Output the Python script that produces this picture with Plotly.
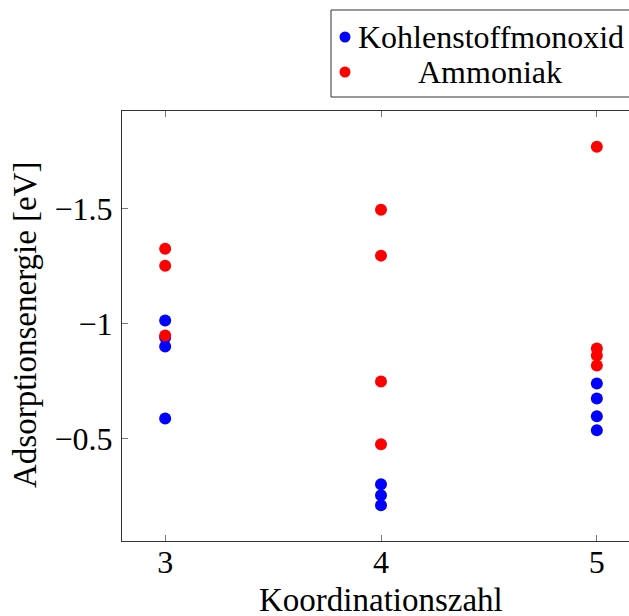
import plotly.graph_objects as go

# Koordinationszahl der Adsorptionsplätze
co_x = [3, 3, 3, 3, 4, 4, 4, 5, 5, 5, 5]
co_y = [-1.013, -0.939, -0.900, -0.587, -0.300, -0.252, -0.209, -0.739, -0.674, -0.596, -0.535]

nh3_x = [3, 3, 3, 4, 4, 4, 4, 5, 5, 5, 5]
nh3_y = [-1.326, -1.252, -0.948, -1.496, -1.296, -0.748, -0.474, -1.770, -0.891, -0.861, -0.817]

x_ticks = [3, 4, 5]
y_ticks = [-1.5, -1.0, -0.5]
y_ticklabels = ["\u22121.5", "\u22121", "\u22120.5"]

series_names = ["Kohlenstoffmonoxid", "Ammoniak"]
series_colors = ["#0000ff", "#ff0000"]
x_title = "Koordinationszahl"
y_title = "Adsorptionsenergie [eV]"

FONT = "'Liberation Serif', 'Times New Roman', serif"
FS = 32
W, H = 700, 616
L, R_PX, T, B_PX = 122, 640, 111, 541  # plot area in pixels
PW, PH = R_PX - L, B_PX - T


def px(x):
    return (x - L) / PW


def py(y):
    return (B_PX - y) / PH


fig = go.Figure()
for xs, ys, name, color in [(co_x, co_y, series_names[0], series_colors[0]),
                            (nh3_x, nh3_y, series_names[1], series_colors[1])]:
    fig.add_trace(go.Scatter(x=xs, y=ys, mode="markers", name=name,
                             marker=dict(color=color, size=12, line=dict(width=0)),
                             showlegend=False))

axis_common = dict(showline=True, linecolor="#333333", linewidth=1, mirror="ticks",
                   ticks="inside", ticklen=6, tickcolor="#777777", tickwidth=1,
                   showgrid=False, zeroline=False, automargin=False,
                   tickfont=dict(family=FONT, size=FS, color="black"))

fig.update_layout(
    template="none",
    font=dict(family=FONT, size=FS, color="black"),
    width=W, height=H,
    margin=dict(l=L, r=W - R_PX, t=T, b=H - B_PX, pad=0),
    paper_bgcolor="white", plot_bgcolor="white",
    xaxis=dict(range=[2.8, 5.2], tickvals=x_ticks, ticktext=[str(v) for v in x_ticks],
               ticklabelstandoff=-7, **axis_common),
    yaxis=dict(range=[-0.053, -1.926], tickvals=y_ticks, ticktext=y_ticklabels,
               ticklabelstandoff=2, **axis_common),
    showlegend=False,
)

# Axis titles
fig.add_annotation(xref="paper", yref="paper", x=px(381), y=py(600), text=x_title,
                   showarrow=False, xanchor="center", yanchor="middle",
                   font=dict(family=FONT, size=33, color="black"))
fig.add_annotation(xref="paper", yref="paper", x=px(25), y=py(325), text=y_title,
                   textangle=-90, showarrow=False, xanchor="center", yanchor="middle",
                   font=dict(family=FONT, size=33, color="black"))

# Legend box drawn above the plot area
fig.add_shape(type="rect", xref="paper", yref="paper",
              x0=px(331), x1=px(640), y0=py(97), y1=py(10),
              line=dict(color="#333333", width=1), fillcolor="white")
legend_rows = [(37, series_names[0], series_colors[0], "left", 356),
               (72, series_names[1], series_colors[1], "center", 490)]
for yy, name, color, align, tx in legend_rows:
    r = 5.5
    fig.add_shape(type="circle", xref="paper", yref="paper",
                  x0=px(345 - r), x1=px(345 + r), y0=py(yy + r), y1=py(yy - r),
                  line=dict(width=0), fillcolor=color)
    fig.add_annotation(xref="paper", yref="paper", x=px(tx), y=py(yy),
                       text=name, showarrow=False,
                       xanchor=align, yanchor="middle",
                       font=dict(family=FONT, size=FS, color="black"))

fig.write_html("out.html")
